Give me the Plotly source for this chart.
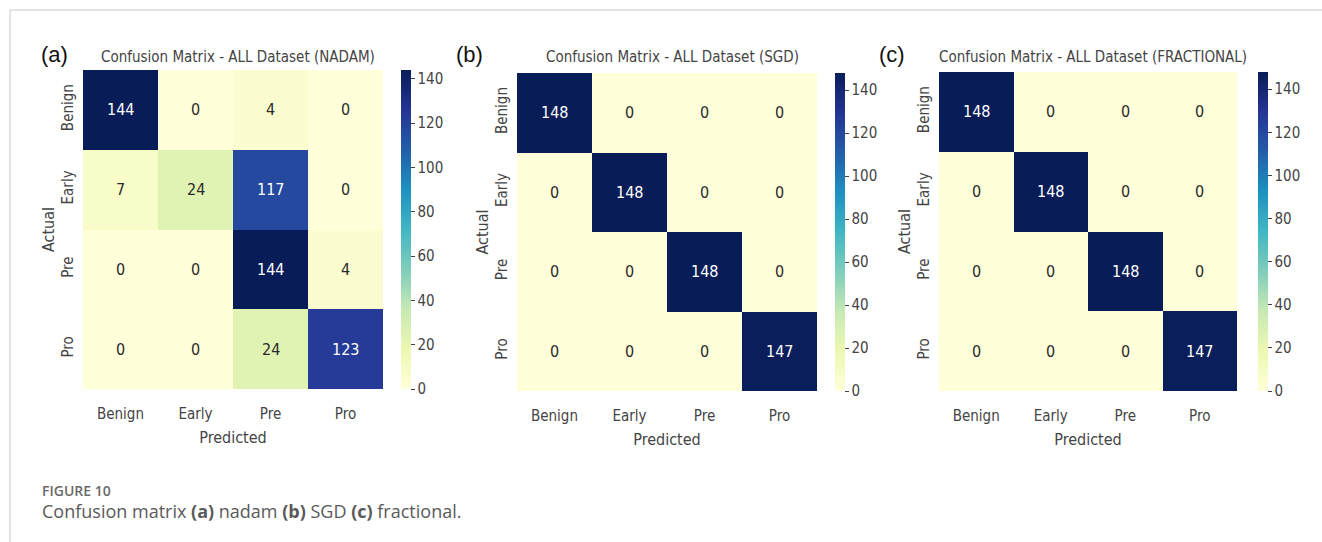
import plotly.graph_objects as go
import plotly.colors as pc

# Class labels shared by all three confusion matrices
classes = ["Benign", "Early", "Pre", "Pro"]

# Confusion matrices (rows = actual, columns = predicted)
nadam = [[144, 0, 4, 0],
         [7, 24, 117, 0],
         [0, 0, 144, 4],
         [0, 0, 24, 123]]
sgd = [[148, 0, 0, 0],
       [0, 148, 0, 0],
       [0, 0, 148, 0],
       [0, 0, 0, 147]]
fractional = [[148, 0, 0, 0],
              [0, 148, 0, 0],
              [0, 0, 148, 0],
              [0, 0, 0, 147]]

panel_tags = ["(a)", "(b)", "(c)"]
panel_titles = ["Confusion Matrix - ALL Dataset (NADAM)",
                "Confusion Matrix - ALL Dataset (SGD)",
                "Confusion Matrix - ALL Dataset (FRACTIONAL)"]
cbar_ticks = [0, 20, 40, 60, 80, 100, 120, 140]

W, H = 1322, 542
FONT = "Liberation Sans Narrow, DejaVu Sans Condensed, Roboto, sans-serif"
GRAY = "#444444"


def px_x(p):
    return p / W


def px_y(p):
    return 1 - p / H


# pixel boxes for each heatmap: (left, right, top, bottom), colorbar left
boxes = [(83, 383, 70, 389, 401),
         (517, 817, 73, 391, 835),
         (939, 1237, 72, 391, 1258)]
tag_x = [55, 470, 892]

scale = pc.sequential.YlGnBu
mats = [nadam, sgd, fractional]

fig = go.Figure()
annotations = []

for i, (mat, (l, r, t, b, cbx)) in enumerate(zip(mats, boxes)):
    n = i + 1
    xa = "x" if n == 1 else f"x{n}"
    ya = "y" if n == 1 else f"y{n}"
    zmax = max(max(row) for row in mat)
    fig.add_trace(go.Heatmap(
        z=mat, x=classes, y=classes,
        xaxis=xa, yaxis=ya,
        colorscale=scale, zmin=0, zmax=zmax,
        xgap=0, ygap=0, hoverinfo="z",
        colorbar=dict(
            x=px_x(cbx), xanchor="left", xpad=0, ypad=0,
            y=px_y(t), yanchor="top",
            lenmode="pixels", len=b - t,
            thickness=10, outlinewidth=0,
            tickvals=cbar_ticks, ticks="outside", ticklen=4,
            tickcolor=GRAY, tickwidth=1,
            tickfont=dict(family=FONT, size=15, color=GRAY),
        ),
    ))
    # cell value labels, white on dark cells
    for ri, row in enumerate(mat):
        for ci, v in enumerate(row):
            annotations.append(dict(
                x=classes[ci], y=classes[ri], xref=xa, yref=ya,
                text=str(v), showarrow=False,
                font=dict(family=FONT, size=16,
                          color="white" if v / zmax > 0.55 else "#2a2a2a"),
            ))
    axis_x = dict(domain=[px_x(l), px_x(r)], anchor=ya, showgrid=False,
                  zeroline=False, ticks="", showline=False,
                  ticklabelstandoff=14,
                  tickfont=dict(family=FONT, size=15, color=GRAY),
                  title=dict(text="Predicted", standoff=9,
                             font=dict(family=FONT, size=16, color=GRAY)))
    axis_y = dict(domain=[px_y(b), px_y(t)], anchor=xa, showgrid=False,
                  zeroline=False, ticks="", showline=False,
                  autorange="reversed", tickangle=-90,
                  ticklabelstandoff=6,
                  tickfont=dict(family=FONT, size=15, color=GRAY),
                  title=dict(text="Actual", standoff=0,
                             font=dict(family=FONT, size=16, color=GRAY)))
    fig.layout["xaxis" if n == 1 else f"xaxis{n}"] = axis_x
    fig.layout["yaxis" if n == 1 else f"yaxis{n}"] = axis_y

    # panel title and tag
    annotations.append(dict(
        x=px_x((l + r) / 2 + 5), y=px_y(57), xref="paper", yref="paper",
        text=panel_titles[i], showarrow=False, xanchor="center", yanchor="middle",
        font=dict(family=FONT, size=15, color=GRAY)))
    annotations.append(dict(
        x=px_x(tag_x[i]), y=px_y(55), xref="paper", yref="paper",
        text=panel_tags[i], showarrow=False, xanchor="center", yanchor="middle",
        font=dict(family="Liberation Sans, Arial, sans-serif", size=22, color="#111111")))

# figure caption
annotations.append(dict(
    x=px_x(40), y=px_y(490), xref="paper", yref="paper", xanchor="left", yanchor="middle",
    text="FIGURE 10", showarrow=False,
    font=dict(family="Open Sans, sans-serif", size=14, weight=600, color="#6a6a6a")))
annotations.append(dict(
    x=px_x(40), y=px_y(511), xref="paper", yref="paper", xanchor="left", yanchor="middle",
    text="Confusion matrix <b>(a)</b> nadam <b>(b)</b> SGD <b>(c)</b> fractional.",
    showarrow=False,
    font=dict(family="Open Sans, sans-serif", size=18, color="#5a5a5a")))

fig.update_layout(
    width=W, height=H,
    margin=dict(l=0, r=0, t=0, b=0),
    paper_bgcolor="white", plot_bgcolor="white",
    annotations=annotations,
    shapes=[
        dict(type="line", xref="paper", yref="paper",
             x0=px_x(10), x1=1, y0=px_y(10), y1=px_y(10),
             line=dict(color="#c8c8c8", width=1)),
        dict(type="line", xref="paper", yref="paper",
             x0=px_x(10), x1=px_x(10), y0=px_y(10), y1=0,
             line=dict(color="#c8c8c8", width=1)),
    ],
)

fig.write_html("out.html")
